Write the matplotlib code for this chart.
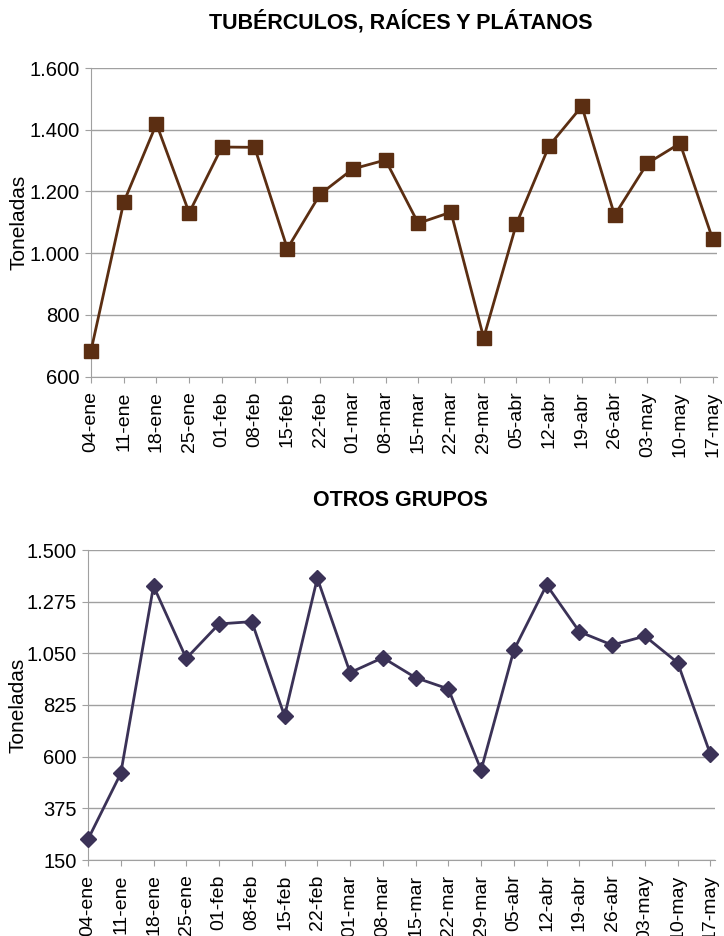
import numpy as np
import matplotlib
matplotlib.use("Agg")
import matplotlib.pyplot as plt
from matplotlib.ticker import FuncFormatter

plt.rcParams['font.family'] = ['Liberation Sans', 'DejaVu Sans']

weeks = ["04-ene", "11-ene", "18-ene", "25-ene", "01-feb", "08-feb", "15-feb", "22-feb",
         "01-mar", "08-mar", "15-mar", "22-mar", "29-mar", "05-abr", "12-abr", "19-abr",
         "26-abr", "03-may", "10-may", "17-may"]

tuberculos = [684, 1165, 1419, 1131, 1344, 1343, 1015, 1191, 1273, 1302,
              1097, 1133, 726, 1095, 1348, 1476, 1123, 1291, 1356, 1045]

otros = [240, 527, 1343, 1028, 1178, 1188, 777, 1377, 966, 1031,
         944, 895, 542, 1064, 1348, 1144, 1086, 1125, 1009, 610]

top_ticks = [600, 800, 1000, 1200, 1400, 1600]
bottom_ticks = [150, 375, 600, 825, 1050, 1275, 1500]

W, H = 724, 936


def miles(v, pos):
    return "{:,.0f}".format(v).replace(",", ".")


def draw(rect, values, yticks, color, marker, msize, title, title_y):
    ax = fig.add_axes(rect)
    x = np.arange(len(weeks))
    ax.plot(x, values, color=color, lw=2, marker=marker, markersize=msize,
            markerfacecolor=color, markeredgecolor=color, zorder=3, clip_on=False)
    ax.set_xlim(0, len(weeks) - 1 + 0.13)
    ax.set_ylim(yticks[0], yticks[-1])
    ax.set_yticks(yticks)
    ax.yaxis.set_major_formatter(FuncFormatter(miles))
    ax.set_xticks(x)
    ax.set_xticklabels(weeks, rotation=90)
    ax.grid(axis='y', color='#a0a0a0', lw=1.0)
    ax.set_axisbelow(True)
    for s in ['top', 'right']:
        ax.spines[s].set_visible(False)
    for s in ['left', 'bottom']:
        ax.spines[s].set_color('#a0a0a0')
    ax.tick_params(axis='both', colors='#a0a0a0', labelcolor='black', length=4)
    ax.tick_params(axis='x', pad=6.5, labelsize=14)
    ax.tick_params(axis='y', pad=4, labelsize=14.5)
    ax.set_ylabel("Toneladas", fontsize=15)
    # label anchor is the right edge of the rotated text
    ax.yaxis.set_label_coords(-(rect[0] * W - 28) / (rect[2] * W), 0.5)
    fig.text(0.553, title_y, title, ha='center', va='center', fontsize=15.5, fontweight='bold')
    return ax


fig = plt.figure(figsize=(W / 100, H / 100), dpi=100)

draw([91 / W, 1 - 376.7 / H, 626 / W, 308.7 / H], tuberculos, top_ticks, '#5b2e12', 's', 9.5,
     "TUBÉRCULOS, RAÍCES Y PLÁTANOS", 1 - 22 / H)
draw([88 / W, 1 - 860 / H, 626.7 / W, 310 / H], otros, bottom_ticks, '#3b3257', 'D', 8,
     "OTROS GRUPOS", 1 - 500 / H)

fig.savefig("out.png", dpi=100)
